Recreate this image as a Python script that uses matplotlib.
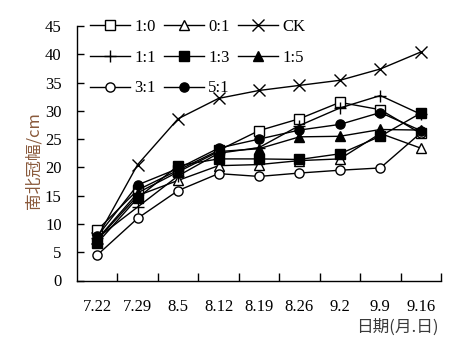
import matplotlib
matplotlib.use("Agg")
import matplotlib.pyplot as plt

dates = ["7.22", "7.29", "8.5", "8.12", "8.19", "8.26", "9.2", "9.9", "9.16"]

s_1_0 = [8.9, 16.0, 19.5, 23.0, 26.5, 28.6, 31.5, 30.2, 26.0]
s_0_1 = [7.2, 15.0, 17.7, 20.3, 20.5, 21.2, 21.5, 26.0, 23.4]
s_ck = [7.6, 20.5, 28.6, 32.2, 33.6, 34.5, 35.4, 37.4, 40.4]
s_1_1 = [7.5, 13.0, 18.5, 22.5, 23.5, 27.4, 30.5, 32.7, 29.4]
s_1_3 = [6.6, 14.6, 20.3, 21.5, 21.5, 21.4, 22.4, 25.5, 29.6]
s_1_5 = [7.3, 15.5, 19.2, 22.8, 23.3, 25.4, 25.5, 26.7, 26.6]
s_3_1 = [4.5, 11.0, 15.9, 18.9, 18.4, 19.0, 19.5, 19.9, 26.1]
s_5_1 = [7.8, 16.9, 19.8, 23.4, 25.0, 26.6, 27.6, 29.7, 26.5]

series = [
    ("1:0", s_1_0, "s", "white"),
    ("0:1", s_0_1, "^", "white"),
    ("CK", s_ck, "x", "black"),
    ("1:1", s_1_1, "+", "black"),
    ("1:3", s_1_3, "s", "black"),
    ("1:5", s_1_5, "^", "black"),
    ("3:1", s_3_1, "o", "white"),
    ("5:1", s_5_1, "o", "black"),
]

serif = ["Liberation Serif", "DejaVu Serif"]
cjk = ["Noto Sans CJK SC", "DejaVu Sans"]

fig = plt.figure(figsize=(4.58, 3.43), dpi=100)
ax = fig.add_axes([77 / 458, (343 - 280.5) / 343, (441 - 77) / 458, 254.5 / 343])

x = list(range(len(dates)))
handles = {}
for name, vals, mk, fc in series:
    ms = 8 if mk in ("x", "+") else 6.6
    (ln,) = ax.plot(x, vals, color="black", lw=1.0, marker=mk, markersize=ms,
                    markerfacecolor=fc, markeredgecolor="black", markeredgewidth=1.0,
                    label=name)
    handles[name] = ln

ax.set_xlim(-0.5, len(dates) - 0.5)
ax.set_ylim(0, 45)
ax.set_yticks(range(0, 46, 5))
ax.set_xticks([i + 0.5 for i in range(len(dates) - 1)] + [len(dates) - 0.5])
ax.set_xticklabels([])
ax.tick_params(axis="x", direction="in", length=6, width=1, color="black")
ax.tick_params(axis="y", direction="in", length=5, width=1, color="black",
               labelsize=12, pad=11)
for lab in ax.get_yticklabels():
    lab.set_fontfamily(serif)
for side in ("top", "right"):
    ax.spines[side].set_visible(False)
for side in ("left", "bottom"):
    ax.spines[side].set_linewidth(1.0)

# date labels sit under each category centre
for i, d in enumerate(dates):
    ax.text(i, -26.5 / 254.5, d, transform=ax.get_xaxis_transform(), ha="center",
            va="center", fontsize=12, family=serif)

fig.text(34 / 458, 1 - 161 / 343, "南北冠幅/cm", rotation=90, ha="center", va="center",
         fontsize=12, color="#8a5a3c", family=cjk)
fig.text(397 / 458, 1 - 327 / 343, "日期(月.日)", ha="center", va="center",
         fontsize=12, color="#3a3a3a", family=cjk)

order = ["1:0", "1:1", "3:1", "0:1", "1:3", "5:1", "CK", "1:5"]
leg = ax.legend([handles[k] for k in order], order, ncol=3, frameon=False,
                loc="upper left", bbox_to_anchor=(13 / 364, 1 + 7 / 254.5),
                prop={"family": serif, "size": 12}, handlelength=2.4,
                handletextpad=0.25, columnspacing=0.5, labelspacing=0.88,
                borderaxespad=0, borderpad=0)

fig.savefig("out.png", dpi=100)
